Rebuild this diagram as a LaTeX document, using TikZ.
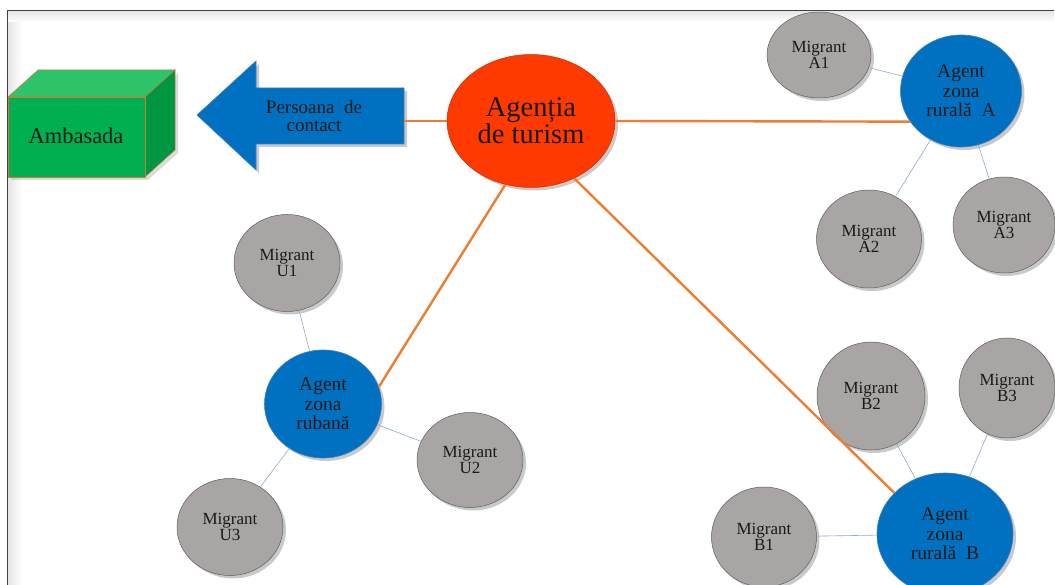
\documentclass[tikz,border=0pt]{standalone}
\usepackage{fontspec}
\setmainfont{Liberation Serif}
\usetikzlibrary{shapes.geometric,shadows}
\definecolor{mgrey}{RGB}{168,165,164}
\definecolor{mgreyedge}{RGB}{95,95,95}
\definecolor{ablue}{RGB}{0,112,192}
\definecolor{abluedge}{RGB}{60,125,190}
\definecolor{ared}{RGB}{255,58,0}
\definecolor{orline}{RGB}{237,125,49}
\definecolor{lbline}{RGB}{143,170,205}
\definecolor{gfront}{RGB}{0,176,80}
\definecolor{gtop}{RGB}{46,196,106}
\definecolor{gside}{RGB}{0,150,66}
\definecolor{cubeedge}{RGB}{210,120,60}
\begin{document}
\begin{tikzpicture}[x=1pt,y=-1pt,
  shad/.style={drop shadow={opacity=0.35,shadow xshift=3pt,shadow yshift=-3pt,fill=black!60}},
  migrant/.style={ellipse,shad,fill=mgrey,draw=mgreyedge,line width=0.5pt,inner sep=0pt,
    align=center,font=\fontsize{17}{16.5}\selectfont,text=black!90},
  agent/.style={ellipse,shad,fill=ablue,draw=abluedge,line width=0.6pt,inner sep=0pt,
    align=center,font=\fontsize{19.5}{19.5}\selectfont,text=black!90},
  orlink/.style={draw=orline,line width=2.4pt},
  bllink/.style={draw=lbline,line width=0.6pt}]
\useasboundingbox (0,0) rectangle (1055,585);
\fill[white] (0,0) rectangle (1055,585);
% frame inner shade
\shade[left color=black!10,right color=white] (8,11) rectangle (22,585);
\shade[top color=black!10,bottom color=white] (8,11) rectangle (1054,22);
\draw[black!75,line width=0.9pt] (7,585) -- (7,10) -- (1054,10);

% cube
\fill[black!40,opacity=0.35] (11,100) -- (148,100) -- (178,73) -- (178,153) -- (148,180) -- (11,180) -- cycle;
\filldraw[fill=gtop,draw=cubeedge,line width=0.5pt] (8,97) -- (38,70) -- (175,70) -- (145,97) -- cycle;
\filldraw[fill=gside,draw=cubeedge,line width=0.5pt] (145,97) -- (175,70) -- (175,150) -- (145,177) -- cycle;
\filldraw[fill=gfront,draw=cubeedge,line width=0.5pt] (8,97) rectangle (145,177);
\node[font=\fontsize{22.5}{22.5}\selectfont,text=black!90] (amb) at (76,136) {Ambasada};

% arrow
\filldraw[fill=ablue,draw=abluedge,line width=0.6pt,shad]
  (197,115) -- (256,61) -- (256,88) -- (404,88) -- (404,144) -- (256,144) -- (256,170) -- cycle;
\node[align=center,font=\fontsize{19}{18.5}\selectfont,text=black!90] (pc) at (314,116) {Persoana\ \ de\\contact};
\coordinate (arrend) at (404,121);

% central agency
\node[ellipse,shad,fill=ared,draw=ared!80!black,line width=0.5pt,inner sep=0pt,
  minimum width=168pt,minimum height=133pt,align=center,
  font=\fontsize{28.5}{25}\selectfont,text=black!90] (ag) at (531,121) {Agenția\\de turism};

% agents
\node[agent,minimum width=121pt,minimum height=112pt] (a) at (961,91) {Agent\\zona\\rurală\ \ A};
\node[agent,minimum width=117pt,minimum height=108pt] (u) at (323,404) {Agent\\zona\\rubană};
\node[agent,minimum width=136pt,minimum height=122pt] (b) at (945,534) {Agent\\zona\\rurală\ \ B};

% migrants
\node[migrant,minimum width=104pt,minimum height=86pt] (a1) at (819,55) {Migrant\\A1};
\node[migrant,minimum width=105pt,minimum height=98pt] (a2) at (869,239) {Migrant\\A2};
\node[migrant,minimum width=102pt,minimum height=96pt] (a3) at (1004,225) {Migrant\\A3};
\node[migrant,minimum width=106pt,minimum height=97pt] (u1) at (287,263) {Migrant\\U1};
\node[migrant,minimum width=106pt,minimum height=95pt] (u2) at (470,460) {Migrant\\U2};
\node[migrant,minimum width=106pt,minimum height=97pt] (u3) at (230,527) {Migrant\\U3};
\node[migrant,minimum width=108pt,minimum height=108pt] (b2) at (871,396) {Migrant\\B2};
\node[migrant,minimum width=96pt,minimum height=100pt] (b3) at (1007,388) {Migrant\\B3};
\node[migrant,minimum width=105pt,minimum height=100pt] (b1) at (764,537) {Migrant\\B1};

% orange links
\draw[orlink] (arrend) -- (ag.west);
\draw[orlink] (ag.east) -- (a.211);
\draw[orlink] (ag.-112) -- (u.17);
\draw[orlink] (ag.-53) -- (b.141);

% blue links
\draw[bllink] (a1) -- (a);
\draw[bllink] (a) -- (a2);
\draw[bllink] (a) -- (a3);
\draw[bllink] (u1) -- (u);
\draw[bllink] (u) -- (u2);
\draw[bllink] (u) -- (u3);
\draw[bllink] (b2) -- (b);
\draw[bllink] (b3) -- (b);
\draw[bllink] (b1) -- (b);
\end{tikzpicture}
\end{document}
